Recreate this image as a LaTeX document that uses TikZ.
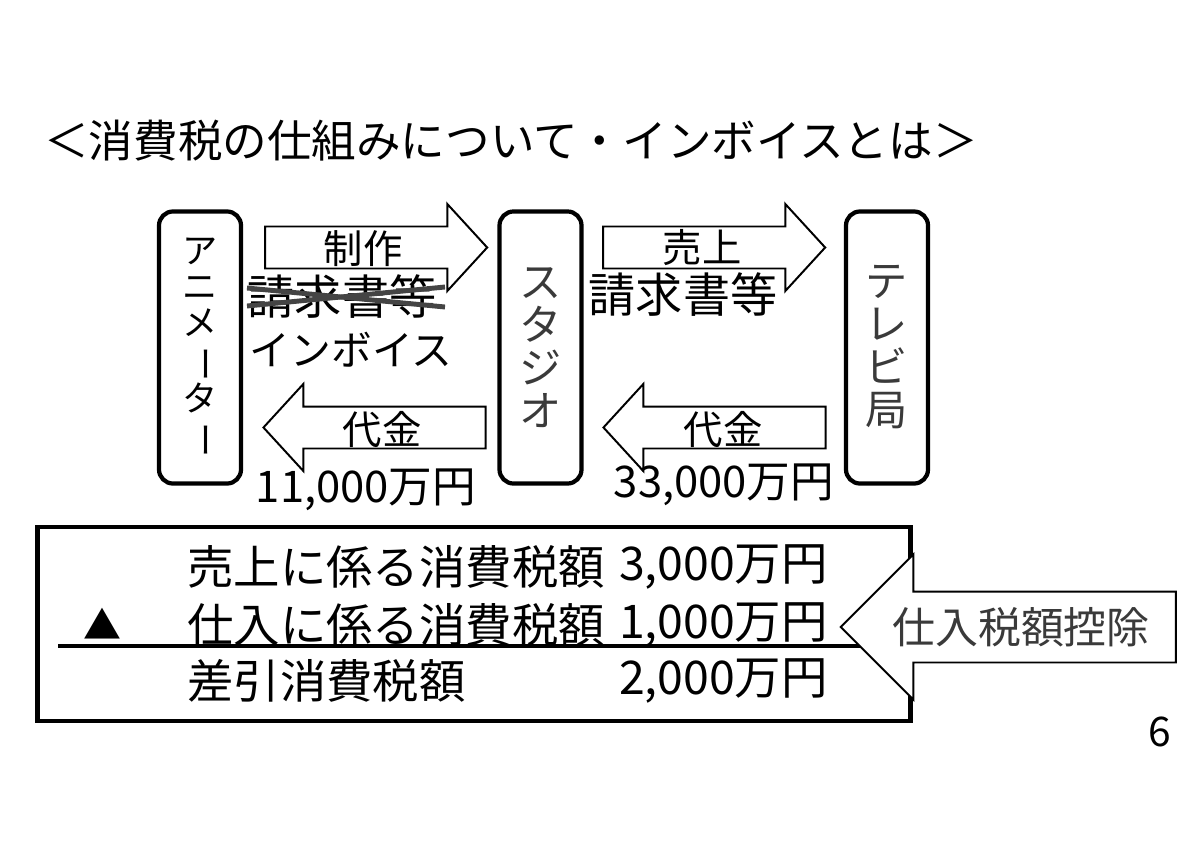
\documentclass[tikz,border=0pt]{standalone}
\usepackage{fontspec}
\setmainfont{Noto Sans CJK JP}
\usepackage{tikz}
\usetikzlibrary{shapes.arrows,positioning,calc}
\definecolor{inkGray}{RGB}{58,58,58}
\definecolor{strikeGray}{RGB}{68,68,68}
\newcommand{\chouon}{\rotatebox[origin=c]{-90}{ー}}
\tikzset{
  actor/.style={draw,rounded corners=10pt,line width=3pt,minimum width=2.05cm,
                minimum height=6.8cm,align=center,inner sep=0pt},
  flow/.style={draw,single arrow,single arrow head extend=0.5625cm,single arrow tip angle=95,
               inner xsep=0pt,inner ysep=0.5cm,minimum height=5.55cm,line width=1.4pt,fill=white},
  lbl/.style={inner sep=0pt,font=\fontsize{28}{30}\selectfont},
  big/.style={inner sep=0pt,font=\fontsize{31}{33}\selectfont},
  sumrow/.style={inner sep=0pt,anchor=west,font=\fontsize{33}{35}\selectfont},
  strike/.style={line width=3.5pt,strikeGray},
}

\begin{document}
\begin{tikzpicture}[x=0.025cm,y=-0.025cm]
  \useasboundingbox (0,0) rectangle (1200,848);
  \node[big,font=\fontsize{31.7}{34}\selectfont] (title) at (511,141)
    {＜消費税の仕組みについて・インボイスとは＞};

  % the three parties
  \node[actor,font=\fontsize{25}{25.6}\selectfont] (anim) at (200,347.5)
    {ア\\ニ\\メ\\\chouon\\タ\\\chouon};
  \node[actor,text=inkGray,font=\fontsize{30}{30.6}\selectfont] (studio) at (540.5,347.5)
    {ス\\タ\\ジ\\オ};
  \node[actor,text=inkGray,font=\fontsize{30}{30.6}\selectfont] (tv) at (887,347.5)
    {テ\\レ\\ビ\\局};

  % block arrows between them
  \node[flow,anchor=tail] (make) at ($(anim.east)+(21,-100)$) {};
  \node[flow,anchor=tail] (sales) at ($(studio.east)+(18.5,-100)$) {};
  \node[flow,anchor=tip,shape border rotate=180] (payA) at ($(anim.east)+(19,80)$) {};
  \node[flow,anchor=tip,shape border rotate=180] (payS) at ($(studio.east)+(18.5,80)$) {};

  \node[lbl] (makeL) at (363,249) {制作};
  \node[lbl] (salesL) at (702,248) {売上};
  \node[lbl] (payAL) at (382,430) {代金};
  \node[lbl] (paySL) at (723,430) {代金};
  \node[big,font=\fontsize{33.5}{35}\selectfont] (reqA) at (342,297) {請求書等};
  \node[big,font=\fontsize{33.5}{35}\selectfont] (reqS) at (683,295) {請求書等};
  \node[big,font=\fontsize{29}{31}\selectfont] (inv) at (351,350) {インボイス};
  \node[big] (amtA) at (366,490) {11,000万円};
  \node[big] (amtS) at (724,485) {33,000万円};

  \draw[strike] ($(reqA.center)+(-95,-9)$) -- ($(reqA.center)+(103,10)$);
  \draw[strike] ($(reqA.center)+(-95,9)$) -- ($(reqA.center)+(103,-10)$);

  % tax summary
  \node[draw,line width=3.5pt,minimum width=21.84cm,minimum height=4.85cm,inner sep=0pt]
    (sum) at (474,624) {};
  \draw[line width=3.3pt] (58,646) -- (890,646);
  \node[sumrow] (r1) at (187,567) {売上に係る消費税額};
  \node[sumrow,anchor=east] (r1v) at (828,567) {3,000万円};
  \node[sumrow,anchor=center,font=\fontsize{27}{29}\selectfont] (tri) at (102,624) {▲};
  \node[sumrow] (r2) at (187,625) {仕入に係る消費税額};
  \node[sumrow,anchor=east] (r2v) at (828,625) {1,000万円};
  \node[sumrow] (r3) at (187,681) {差引消費税額};
  \node[sumrow,anchor=east] (r3v) at (828,681) {2,000万円};

  \node[draw,single arrow,shape border rotate=180,fill=white,line width=1.4pt,inner xsep=0pt,
        inner ysep=0.8625cm,minimum height=8.375cm,single arrow head extend=0.925cm,anchor=tip]
    (deduct) at ($(sum.east)+(-74,3)$) {};
  \node[lbl,text=inkGray,font=\fontsize{30.5}{32}\selectfont] (deductL) at (1021,627)
    {仕入税額控除};

  \node[big,font=\fontsize{29}{31}\selectfont] (pageno) at (1160,732) {6};
\end{tikzpicture}
\end{document}
